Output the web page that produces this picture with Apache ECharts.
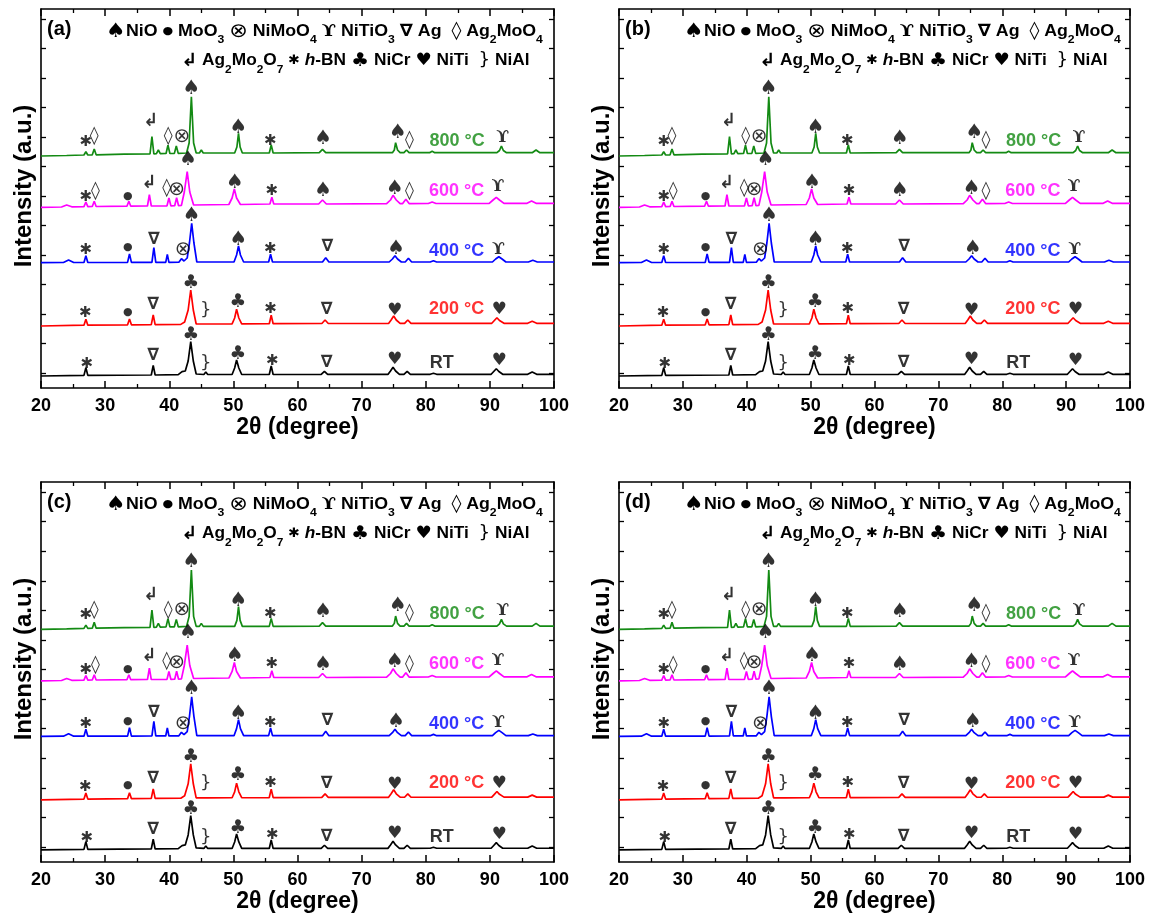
<!DOCTYPE html>
<html><head><meta charset="utf-8">
<script src="https://cdn.jsdelivr.net/npm/echarts@6/dist/echarts.min.js"></script>
<style>html,body{margin:0;padding:0;background:#fff}#c{width:1152px;height:918px}</style>
</head><body><div id="c"></div>
<script>
// ---------------- data ----------------
const xRange = [20, 100];
const xTickStep = 10;
const yRange = [0, 379];
const yTicks = [15, 44.5, 74, 103.5, 133, 162.5, 192, 221.5, 251, 280.5, 310, 339.5, 369];
const panelLabels = ['(a)', '(b)', '(c)', '(d)'];
const sampleNames = ['RT', '200 °C', '400 °C', '600 °C', '800 °C'];
const xTitle = '2θ (degree)';
const yTitle = 'Intensity (a.u.)';

const curveRT = [[20,12],[26.7,12.6],[27.0,20.3],[27.3,12.6],[37.2,13],[37.5,22.7],[37.8,13],
 [41.4,13.3],[42.0,16.3],[42.5,17],[42.95,27],[43.35,46.3],[43.75,27],[44.2,14],
 [45.4,13.5],[45.7,16],[46.0,13.5],[49.8,13.5],[50.2,20],[50.5,28],[50.85,20],[51.3,13.5],
 [55.6,13.5],[55.9,22],[56.2,13.5],[63.7,13.6],[64.2,16.7],[64.7,13.6],
 [74.1,13.6],[74.5,17],[74.9,20.7],[75.3,17],[75.9,13.6],[76.6,13.6],[77.1,16.7],[77.6,13.6],
 [80.7,13.7],[81.2,14.7],[81.7,13.7],[90.2,13.7],[90.6,16.5],[91.0,19.3],[91.4,16.5],[92.0,13.7],
 [95.9,13.7],[96.6,16],[97.3,13.7],[100,13.7]];
const curve200 = [[20,62],[26.7,62.8],[27.0,68.7],[27.3,62.8],[33.5,63.2],[33.8,69],[34.1,63.2],
 [37.2,63.4],[37.5,73],[37.8,63.4],[41.8,63.6],[42.4,66],[42.95,78],[43.35,98],[43.75,78],[44.2,64],
 [45.4,64],[45.7,65.3],[46.0,64],[49.8,64.1],[50.2,70],[50.5,78.7],[50.85,70],[51.3,64.1],
 [55.6,64.3],[55.9,72.7],[56.2,64.3],[63.8,64.5],[64.3,68],[64.8,64.5],
 [74.2,64.5],[74.6,68],[75.0,72],[75.4,68],[76.0,64.6],[76.7,64.6],[77.2,68],[77.7,64.6],
 [90.3,64.7],[90.7,67.5],[91.1,70.3],[91.5,67.5],[92.2,64.7],[95.9,64.7],[96.6,66.7],[97.3,64.7],[100,64.7]];
const curve400 = [[20,125.3],[23.5,125.5],[24.3,128],[25.1,125.5],[26.7,125.5],[27.0,132.3],[27.3,125.5],
 [33.5,125.6],[33.8,134],[34.1,125.6],[37.3,125.7],[37.6,140.3],[37.9,125.7],
 [39.45,125.7],[39.7,133.7],[39.95,125.7],[41.5,125.8],[41.9,129.3],[42.3,127],
 [42.8,130],[43.15,145],[43.5,164.7],[43.85,145],[44.3,126],
 [50.1,126],[50.5,133],[50.8,142],[51.1,133],[51.6,126],[55.5,126],[55.8,133.7],[56.1,126],
 [63.9,126],[64.4,130.3],[64.9,126],[74.3,126],[74.8,129],[75.2,132.3],[75.6,129],[76.2,126],
 [76.8,126],[77.3,129.7],[77.8,126],[80.7,126],[81.2,127.3],[81.7,126],
 [90.4,126],[90.9,129],[91.4,131.3],[91.9,129],[92.5,126],[96,126],[96.7,127.7],[97.4,126],[100,126]];
const curve600 = [[20,180.7],[23.2,181],[24.0,183],[24.8,181.2],[26.7,181.4],[27.0,186],[27.3,181.4],
 [28.0,181.5],[28.3,186.7],[28.6,181.5],[33.4,181.8],[33.7,186.7],[34.0,181.8],
 [36.6,182],[36.9,193.3],[37.2,182],[39.65,182.2],[39.95,190],[40.25,182.2],
 [40.85,182.3],[41.15,190.3],[41.45,182.3],[41.9,182.6],[42.35,196],[42.8,216.3],[43.2,196],[43.8,183],
 [49.3,183.5],[49.8,190],[50.15,199],[50.5,190],[51.1,183.5],[55.7,184],[56.0,190.7],[56.3,184],
 [63.3,184],[63.9,188],[64.5,184],[73.9,184.3],[74.5,188],[74.9,192.7],[75.4,188],[76.0,184.4],
 [76.4,184.4],[76.9,188.7],[77.4,184.4],[80.4,184.5],[81.0,186],[81.6,184.5],
 [89.9,184.6],[90.5,188],[91.0,190.7],[91.5,188],[92.2,184.6],[95.8,184.7],[96.5,187],[97.2,184.7],[100,184.7]];
const curve800 = [[20,232],[24,232.5],[26.7,233],[27.0,236.3],[27.3,233],[28.0,233.2],[28.3,239],[28.6,233.2],
 [33,233.8],[37.0,234],[37.3,251.3],[37.6,234],[38.0,234.3],[38.3,238],[38.6,234.3],
 [39.5,234.5],[39.8,242.7],[40.1,234.5],[40.8,234.6],[41.1,242],[41.4,234.6],
 [42.7,235],[43.1,245],[43.45,291.3],[43.8,245],[44.2,235],[44.7,235],[45.0,238],[45.3,235],
 [50.2,235],[50.55,241],[50.8,254.7],[51.05,241],[51.4,235],[55.6,235],[55.9,243],[56.2,235],
 [63.4,235.3],[63.9,238.7],[64.4,235.3],[74.8,235.3],[75.1,238],[75.3,245.3],[75.6,238],[76.0,235.3],
 [76.6,235.3],[77.0,238],[77.4,235.3],[80.6,235.3],[81.0,236.7],[81.4,235.3],
 [91.1,235.3],[91.5,237.5],[91.8,242],[92.1,237.5],[92.6,235.3],[96.6,235.3],[97.2,238],[97.8,235.3],[100,235.3]];

// peak markers: [phase, 2theta, intensity]
const markRT = [['hBN',27.15,23.7],['Ag',37.5,32.3],['NiCr',43.35,53],['NiAl',45.7,24.7],['NiCr',50.7,34],
 ['hBN',56.05,27],['Ag',64.55,25.7],['NiTi',75.15,28],['NiTi',91.45,27.3]];
const mark200 = [['hBN',26.9,74.7],['MoO3',33.55,76.3],['Ag',37.5,83],['NiCr',43.35,104.7],['NiAl',45.7,78],
 ['NiCr',50.7,86.3],['hBN',55.8,78.7],['Ag',64.55,78],['NiTi',75.15,77.3],['NiTi',91.45,78]];
const mark400 = [['hBN',27.0,138],['MoO3',33.55,140.7],['Ag',37.6,148.7],['NiMoO4',42.15,138],['NiO',43.5,172.3],
 ['NiO',50.8,148],['hBN',55.75,138.7],['Ag',64.65,141.3],['NiO',75.4,139.7],['NiTiO3',91.35,138.7]];
const mark600 = [['hBN',27.0,191.3],['Ag2MoO4',28.5,196.3],['MoO3',33.55,192],['Ag2Mo2O7',36.8,204.7],
 ['Ag2MoO4',39.6,199.7],['NiMoO4',41.15,198.7],['NiO',42.95,228.7],['NiO',50.25,205.3],['hBN',56.0,197.3],
 ['NiO',64.0,197],['NiO',75.2,199.7],['Ag2MoO4',77.45,197],['NiTiO3',91.25,201.3]];
const mark800 = [['hBN',27.0,246.3],['Ag2MoO4',28.3,251.3],['Ag2Mo2O7',37.1,266.3],['Ag2MoO4',39.85,251.3],
 ['NiMoO4',41.95,251.3],['NiO',43.45,299],['NiO',50.8,260.7],['hBN',55.75,247.3],['NiO',64.0,249.7],
 ['NiO',75.65,255.3],['Ag2MoO4',77.45,248],['NiTiO3',92.0,250.3]];
// sample name label positions [2theta, intensity]
const namePos = [[82.5,24.7],[84.8,79],[84.8,137.3],[84.8,197.3],[84.9,247.3]];

// ---------------- styles ----------------
const curves = [curveRT, curve200, curve400, curve600, curve800];
const marks = [markRT, mark200, mark400, mark600, mark800];
const colors = ['#000000', '#ff0000', '#0000ff', '#ff00ff', '#138a13'];
const glyph = {NiO:'♠', MoO3:'●', NiMoO4:'⊗', NiTiO3:'ϒ', Ag:'∇', Ag2MoO4:'◊', Ag2Mo2O7:'↲', hBN:'✱', NiCr:'♣', NiTi:'♥', NiAl:'}'};
const glyphStyleName = {NiO:'sp', MoO3:'dot', NiMoO4:'ot', NiTiO3:'up', Ag:'tri', Ag2MoO4:'loz', Ag2Mo2O7:'arr', hBN:'ast', NiCr:'cl', NiTi:'ht'};
function glyphStyles(lh) {
  const f = (size, fam, w) => Object.assign({fontFamily:fam || 'DejaVu Sans', fontSize:size, fontWeight:w || 'normal', color:'#000'}, lh ? {lineHeight:lh} : {});
  return {
    sp:f(20), dot:f(11), ot:f(20), up:f(17,'DejaVu Serif','bold'), tri:f(17,null,'bold'),
    loz:f(18,null,'bold'), arr:f(18,null,'bold'), ast:f(15), cl:f(19), ht:f(17)
  };
}

const grids = [
  {left:41, top:9, width:513, height:379},
  {left:619, top:9, width:511, height:379},
  {left:41, top:482, width:513, height:380},
  {left:619, top:482, width:511, height:380}
];
const textFont = 'Liberation Sans, Arial, sans-serif';
const axisCol = '#000';

const xAxes = [], yAxes = [], series = [], graphics = [];
grids.forEach((g, p) => {
  const base = {
    gridIndex:p, type:'value', min:xRange[0], max:xRange[1], interval:xTickStep,
    axisLine:{show:true, onZero:false, lineStyle:{color:axisCol, width:1.6}},
    axisTick:{show:true, inside:true, length:7, lineStyle:{color:axisCol, width:1.5}},
    minorTick:{show:true, splitNumber:2, length:4, lineStyle:{color:axisCol, width:1.3}},
    splitLine:{show:false}
  };
  xAxes.push(Object.assign({}, base, {position:'bottom',
    axisLabel:{show:true, margin:9, fontFamily:textFont, fontWeight:'bold', fontSize:18, color:'#000'},
    name:xTitle, nameLocation:'middle', nameGap:28,
    nameTextStyle:{fontFamily:textFont, fontWeight:'bold', fontSize:23, color:'#000'}}));
  xAxes.push(Object.assign({}, base, {position:'top', axisLabel:{show:false}}));
  const ybase = {
    gridIndex:p, type:'value', min:yRange[0], max:yRange[1],
    axisLine:{show:true, onZero:false, lineStyle:{color:axisCol, width:1.6}},
    axisTick:{show:true, inside:true, length:5, customValues:yTicks, lineStyle:{color:axisCol, width:1.3}},
    axisLabel:{show:false, customValues:yTicks},
    splitLine:{show:false}
  };
  yAxes.push(Object.assign({}, ybase, {position:'left'}));
  yAxes.push(Object.assign({}, ybase, {position:'right'}));

  curves.forEach((c, i) => {
    series.push({type:'line', xAxisIndex:2*p, yAxisIndex:2*p, data:c, showSymbol:false, symbol:'none',
      smooth:false, lineStyle:{color:colors[i], width:1.7}, silent:true, z:3});
  });
  const markData = [];
  marks.forEach(m => m.forEach(e => markData.push({value:[e[1], e[2]], phase:e[0]})));
  series.push({type:'scatter', xAxisIndex:2*p, yAxisIndex:2*p, symbolSize:0, silent:true, z:4,
    data:markData,
    label:{show:true, position:'inside', color:'#000',
      fontFamily:'DejaVu Sans', fontSize:18, fontWeight:'normal',
      formatter:(prm) => {
        const ph = prm.data.phase;
        if (ph === 'NiAl') return glyph[ph];
        return '{' + glyphStyleName[ph] + '|' + glyph[ph] + '}';
      },
      rich:glyphStyles(0)}});
  series.push({type:'scatter', xAxisIndex:2*p, yAxisIndex:2*p, symbolSize:0, silent:true, z:4,
    data:namePos.map((q, i) => ({value:q, label:{color:colors[i], formatter:sampleNames[i]}})),
    label:{show:true, position:'inside', fontFamily:textFont, fontWeight:'bold', fontSize:18}});

  // y title
  graphics.push({type:'text', x:g.left - 17, y:g.top + 177, rotation:Math.PI / 2, z:10,
    style:{text:yTitle, fontFamily:textFont, fontWeight:'bold', fontSize:24, fill:'#000', align:'center', verticalAlign:'middle'}});
  // header: panel label + phase key
  graphics.push({type:'text', x:g.left + 6, y:g.top + 20, z:10,
    style:{text:panelLabels[p], fontFamily:textFont, fontWeight:'bold', fontSize:20, fill:'#000', align:'left', verticalAlign:'middle'}});
  const hdrRich = Object.assign(glyphStyles(28), {
    t:{fontFamily:textFont, fontWeight:'bold', fontSize:16, color:'#000', lineHeight:28},
    s:{fontFamily:textFont, fontWeight:'bold', fontSize:11, color:'#000', lineHeight:11, verticalAlign:'bottom'},
    it:{fontFamily:textFont, fontWeight:'bold', fontStyle:'italic', fontSize:16, color:'#000', lineHeight:28}
  });
  hdrRich.ast = {fontFamily:'DejaVu Sans', fontSize:13, color:'#000', lineHeight:28};
  const line1 = '{sp|♠}{t|NiO }{dot|●}{t| MoO}{s|3}{t| }{ot|⊗}{t| NiMoO}{s|4}{t| }{up|ϒ}{t| NiTiO}{s|3}{t| }{tri|∇}{t| Ag  }{loz|◊}{t| Ag}{s|2}{t|MoO}{s|4}';
  const line2 = '{arr|↲}{t| Ag}{s|2}{t|Mo}{s|2}{t|O}{s|7}{t| }{ast|✱}{t| }{it|h}{t|-BN }{cl|♣}{t| NiCr }{ht|♥}{t| NiTi  }}{t| NiAl}';
  graphics.push({type:'text', x:g.left + 65, y:g.top + 22.5, scaleX:1.11, z:10,
    style:{text:line1, rich:hdrRich, fontFamily:'DejaVu Sans', fontSize:17, fill:'#000', align:'left', verticalAlign:'middle'}});
  graphics.push({type:'text', x:g.left + 140, y:g.top + 52, scaleX:1.08, z:10,
    style:{text:line2, rich:hdrRich, fontFamily:'DejaVu Sans', fontSize:17, fill:'#000', align:'left', verticalAlign:'middle'}});
});

const chart = echarts.init(document.getElementById('c'), null, {renderer:'canvas'});
chart.setOption({
  animation:false, backgroundColor:'#fff',
  grid:grids.map(g => Object.assign({containLabel:false}, g)),
  xAxis:xAxes, yAxis:yAxes, series:series, graphic:graphics
});
</script></body></html>
